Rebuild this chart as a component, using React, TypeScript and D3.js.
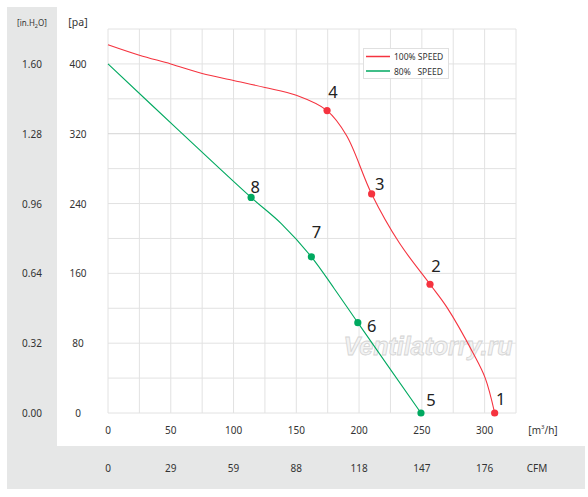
import React from "react";
import * as d3 from "d3";

// airflow m3/h vs pressure pa
const speed100 = [
  { x: 0, y: 422 }, { x: 25, y: 410 }, { x: 50, y: 400 }, { x: 75, y: 389 },
  { x: 100, y: 381 }, { x: 125, y: 373 }, { x: 150, y: 364 }, { x: 174.5, y: 346.5 },
  { x: 190, y: 318 }, { x: 210, y: 251 }, { x: 232, y: 195 },
  { x: 256.5, y: 147.5 }, { x: 270, y: 121 }, { x: 290.7, y: 69 }, { x: 300.5, y: 40 },
  { x: 308, y: 0 },
];
const speed80 = [
  { x: 0, y: 400 }, { x: 57, y: 323 }, { x: 114, y: 247 }, { x: 138, y: 217 },
  { x: 162, y: 179 }, { x: 180, y: 143 }, { x: 199, y: 103.5 }, { x: 249.3, y: 0 },
];
const points100 = [
  { n: "1", x: 308, y: 0 }, { n: "2", x: 256.5, y: 147.5 },
  { n: "3", x: 210, y: 251 }, { n: "4", x: 174.5, y: 346.5 },
];
const points80 = [
  { n: "5", x: 249.3, y: 0 }, { n: "6", x: 199, y: 103.5 },
  { n: "7", x: 162, y: 179 }, { n: "8", x: 114, y: 247 },
];
const labelOffsets: Record<string, [number, number]> = {
  "1": [6, -15], "2": [6, -19], "3": [8, -10], "4": [6, -19],
  "5": [10, -14], "6": [14, 3], "7": [5, -25], "8": [4, -11],
};
const paTicks = [0, 80, 160, 240, 320, 400];
const inH2OLabels = ["0.00", "0.32", "0.64", "0.96", "1.28", "1.60"];
const flowTicks = [0, 50, 100, 150, 200, 250, 300];
const cfmLabels = ["0", "29", "59", "88", "118", "147", "176"];

const RED = "#f5333f";
const GREEN = "#00a960";
const FONT = "'Noto Sans', 'Open Sans', sans-serif";

export default function App() {
  const W = 588, H = 497;
  const left = 108, right = 516, top = 29, bottom = 413;

  const x = d3.scaleLinear().domain([0, 325]).range([left, right]);
  const y = d3.scaleLinear().domain([0, 440]).range([bottom, top]);

  const line = d3.line<{ x: number; y: number }>()
    .x(d => x(d.x))
    .y(d => y(d.y))
    .curve(d3.curveCatmullRom.alpha(0.5));

  const xGrid = d3.range(0, 326, 25);
  const yGrid = d3.range(0, 441, 40);

  return (
    <svg width={W} height={H} style={{ position: "absolute", left: 0, top: 0 }} fontFamily={FONT}>
      <rect x={0} y={0} width={W} height={H} fill="#fff" />
      {/* grey bands */}
      <rect x={7} y={7} width={50} height={482} fill="#e6e7e7" />
      <rect x={7} y={446} width={578} height={43} fill="#e6e7e7" />

      {/* grid */}
      <g stroke="#e2e2e2" strokeWidth={1}>
        {xGrid.map(v => (
          <line key={"gx" + v} x1={x(v)} x2={x(v)} y1={top} y2={bottom} />
        ))}
        {yGrid.map(v => (
          <line key={"gy" + v} x1={left} x2={right} y1={y(v)} y2={y(v)}
            stroke={v === 320 ? "#d4d4d4" : "#e2e2e2"} />
        ))}
      </g>

      {/* watermark */}
      <text x={428} y={355} textAnchor="middle" fontSize={25} fontStyle="italic" fontWeight="bold"
        fill="#f3f3f3" stroke="#d4d4d4" strokeWidth={0.8} fontFamily="'Liberation Sans', Arial, sans-serif">
        Ventilatorry.ru
      </text>

      {/* curves */}
      <path d={line(speed100) ?? ""} fill="none" stroke={RED} strokeWidth={1.1} />
      <path d={line(speed80) ?? ""} fill="none" stroke={GREEN} strokeWidth={1.1} />

      {points100.map(p => (
        <circle key={"p" + p.n} cx={x(p.x)} cy={y(p.y)} r={3.6} fill={RED} />
      ))}
      {points80.map(p => (
        <circle key={"p" + p.n} cx={x(p.x)} cy={y(p.y)} r={3.6} fill={GREEN} />
      ))}
      {[...points100, ...points80].map(p => (
        <text key={"l" + p.n} x={x(p.x) + labelOffsets[p.n][0]} y={y(p.y) + labelOffsets[p.n][1]}
          textAnchor="middle" dominantBaseline="central" fontSize={16.5} fill="#222">
          {p.n}
        </text>
      ))}

      {/* legend */}
      <rect x={363.5} y={48.5} width={85} height={30} fill="#fff" stroke="#e0e0e0" />
      <line x1={366} x2={390} y1={56.5} y2={56.5} stroke={RED} strokeWidth={1.5} />
      <line x1={366} x2={390} y1={71} y2={71} stroke={GREEN} strokeWidth={1.5} />
      <text x={394} y={56.5} dominantBaseline="central" fontSize={8.5} fill="#333">100% SPEED</text>
      <text x={394} y={71} dominantBaseline="central" fontSize={8.5} fill="#333" style={{ whiteSpace: "pre" }}>
        {"80%   SPEED"}
      </text>

      {/* y labels */}
      <text x={78} y={26} textAnchor="middle" fontSize={10.5} fill="#333">[pa]</text>
      <text x={32} y={26} textAnchor="middle" fontSize={8} fill="#333">
        [in.H<tspan fontSize={5.5} dy={2}>2</tspan><tspan dy={-2}>O]</tspan>
      </text>
      {paTicks.map((v, i) => (
        <g key={"yt" + v}>
          <text x={78} y={y(v)} textAnchor="middle" dominantBaseline="central" fontSize={10} fill="#333">{v}</text>
          <text x={32} y={y(v)} textAnchor="middle" dominantBaseline="central" fontSize={10} fill="#333">{inH2OLabels[i]}</text>
        </g>
      ))}

      {/* x labels */}
      {flowTicks.map((v, i) => (
        <g key={"xt" + v}>
          <text x={x(v)} y={430} textAnchor="middle" dominantBaseline="central" fontSize={10} fill="#333">{v}</text>
          <text x={x(v)} y={468} textAnchor="middle" dominantBaseline="central" fontSize={10} fill="#333">{cfmLabels[i]}</text>
        </g>
      ))}
      <text x={543} y={430} textAnchor="middle" dominantBaseline="central" fontSize={10} fill="#333">
        [m<tspan fontSize={6} dy={-3}>3</tspan><tspan dy={3}>/h]</tspan>
      </text>
      <text x={537} y={468} textAnchor="middle" dominantBaseline="central" fontSize={10} fill="#333">CFM</text>
    </svg>
  );
}
